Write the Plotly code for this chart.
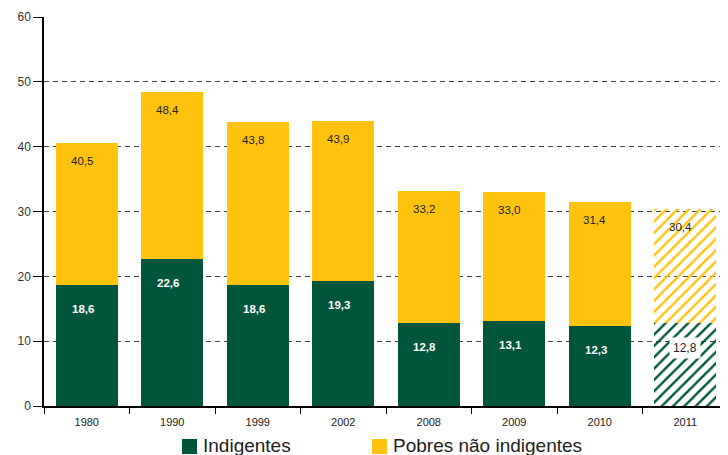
import plotly.graph_objects as go

years = ["1980", "1990", "1999", "2002", "2008", "2009", "2010", "2011"]
indigentes = [18.6, 22.6, 18.6, 19.3, 12.8, 13.1, 12.3, 12.8]
totais = [40.5, 48.4, 43.8, 43.9, 33.2, 33.0, 31.4, 30.4]
pobres_nao_indigentes = [round(t - i, 1) for t, i in zip(totais, indigentes)]
projetado = [False, False, False, False, False, False, False, True]
series_names = ["Indigentes", "Pobres não indigentes"]

GREEN = "#00553A"
YELLOW = "#FFC20E"
FONT = "Liberation Sans, Arial, sans-serif"
n = len(years)

def fmt(v):
    return f"{v:.1f}".replace(".", ",")

def bar_trace(values, name, color):
    return go.Bar(
        x=years, y=values, name=name,
        marker=dict(
            color=color,
            line=dict(width=0),
            pattern=dict(
                shape=["/" if p else "" for p in projetado],
                fgcolor=color, bgcolor="rgba(255,255,255,0)",
                size=8, solidity=0.3, fillmode="replace",
            ),
        ),
        hoverinfo="skip", showlegend=False,
    )

fig = go.Figure()
fig.add_trace(bar_trace(indigentes, series_names[0], GREEN))
fig.add_trace(bar_trace(pobres_nao_indigentes, series_names[1], YELLOW))

annotations = []
for i, (ind, tot, p) in enumerate(zip(indigentes, totais, projetado)):
    annotations.append(dict(
        x=i, y=tot, yshift=-18, xshift=-5, text=fmt(tot), showarrow=False,
        font=dict(family=FONT, size=11.5, color="#222"),
    ))
    if p:
        annotations.append(dict(
            x=i, y=ind, yshift=-25, text=fmt(ind), showarrow=False,
            font=dict(family=FONT, size=12, color="#222"),
            bgcolor="white", borderpad=3,
        ))
    else:
        annotations.append(dict(
            x=i, y=ind, yshift=-24, xshift=-4, text="<b>" + fmt(ind) + "</b>",
            showarrow=False, font=dict(family=FONT, size=11.5, color="white"),
        ))

# page has an 8px body margin; figure is sized so the picture lines up
OFF = 8
W, H = 728 - OFF, 455 - OFF
L, R, T, B = 44 - OFF, 0, 17 - OFF, 49
pw, ph = W - L - R, H - T - B

def px(xpage):
    return (xpage - OFF - L) / pw

def py(ypage):
    return (H - B - (ypage - OFF)) / ph

shapes = []
legend_items = [(series_names[0], GREEN, 182), (series_names[1], YELLOW, 372)]
for name, color, x0 in legend_items:
    shapes.append(dict(type="rect", xref="paper", yref="paper",
                       x0=px(x0), x1=px(x0 + 15), y0=py(454), y1=py(439),
                       fillcolor=color, line=dict(width=0)))
    annotations.append(dict(xref="paper", yref="paper", x=px(x0 + 19), y=py(446),
                            xanchor="left", yanchor="middle", text=name, showarrow=False,
                            font=dict(family=FONT, size=19, color="#222")))

fig.update_layout(
    barmode="stack",
    bargap=0.28,
    width=W, height=H,
    margin=dict(l=L, r=R, t=T, b=B, autoexpand=False),
    plot_bgcolor="white", paper_bgcolor="white",
    font=dict(family=FONT, size=11, color="#333"),
    annotations=annotations,
    shapes=shapes,
    showlegend=False,
    xaxis=dict(
        type="category", range=[-0.5, n - 0.5], automargin=False,
        showline=True, linecolor="black", linewidth=1.5,
        ticks="outside", tickson="boundaries", ticklen=6, tickcolor="black",
        tickfont=dict(family=FONT, size=11, color="#222"),
        ticklabelstandoff=5,
        showgrid=False,
    ),
    yaxis=dict(
        range=[0, 60], dtick=10, automargin=False,
        showline=True, linecolor="black", linewidth=1.5,
        ticks="outside", ticklen=9, tickcolor="black",
        showgrid=True, gridcolor="#444", griddash="5px,4px", gridwidth=1,
        zeroline=False,
        tickfont=dict(family=FONT, size=12, color="#333"),
    ),
)

fig.write_html("out.html")
